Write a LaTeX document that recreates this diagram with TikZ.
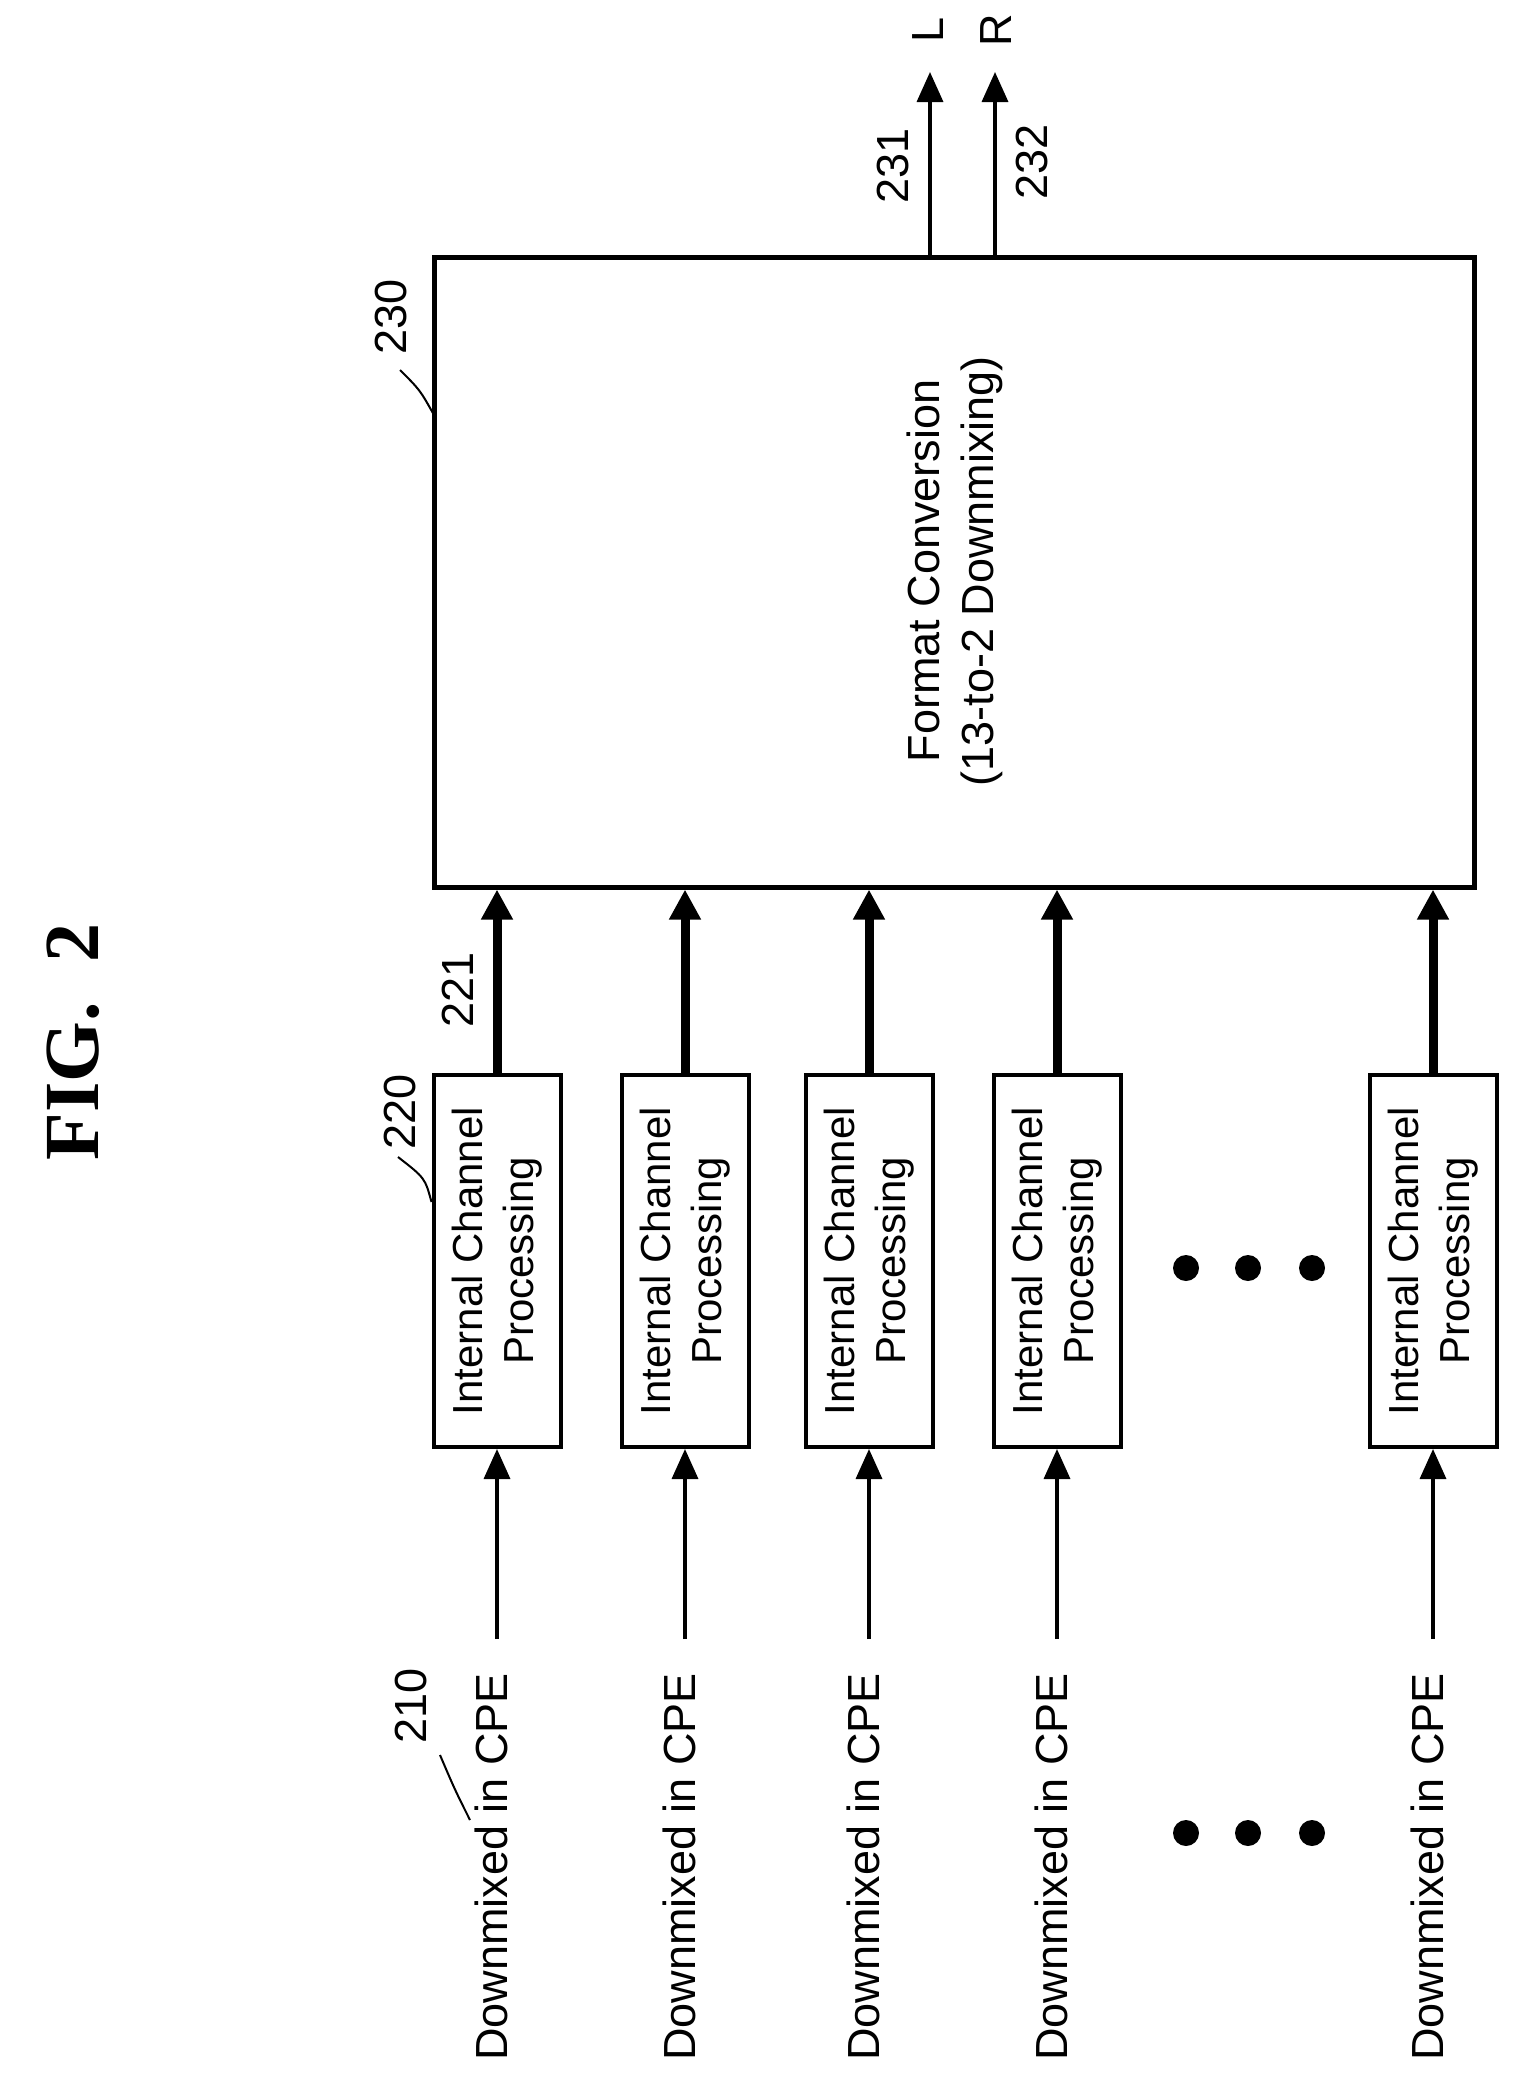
\documentclass[tikz,border=0pt]{standalone}
\usepackage{fontspec}
\setmainfont{Liberation Sans}
\newfontfamily\figfont{Liberation Serif}
\usetikzlibrary{arrows.meta}
\begin{document}
\begin{tikzpicture}[x=1pt,y=-1pt,
  lab/.style={font=\fontsize{45}{54}\selectfont, rotate=90, inner sep=0pt},
  icp/.style={draw, line width=4pt, minimum width=127pt, minimum height=372pt, inner sep=0pt},
  icptxt/.style={font=\fontsize{42}{51}\selectfont, rotate=90, align=center},
  thin/.style={line width=3.5pt, -{Triangle[length=30pt,width=26pt]}},
  thick/.style={line width=9pt, -{Triangle[length=30pt,width=30pt]}},
  lead/.style={line width=2pt},
  dot/.style={circle, fill=black, minimum size=26pt, inner sep=0pt}]
\useasboundingbox (0,0) rectangle (1514,2073);
\node[rotate=90, font=\figfont\bfseries\fontsize{78}{90}\selectfont] (fig) at (73,1042) {FIG.~~2};
% big box
\node[draw, line width=5pt, minimum width=1040pt, minimum height=630pt, inner sep=0pt] (fc) at (954,572) {};
\node[lab, align=center] (fctxt) at (955,571) {Format Conversion\\(13-to-2 Downmixing)};
% outputs
\coordinate (oL) at (930,72);
\coordinate (oR) at (995,72);
\draw[thin] (fc.north -| oL) -- (oL);
\draw[thin] (fc.north -| oR) -- (oR);
\node[lab] (L) at (928,30) {L};
\node[lab] (R) at (996,30) {R};
\node[lab] (n231) at (893,166) {231};
\node[lab] (n232) at (1032,162) {232};
\node[lab] (n230) at (391,317) {230};
\coordinate (c230) at (434,415);
\draw[lead] (400,370) .. controls (420,390) .. (c230);
% channels
\foreach \i/\x in {1/497,2/685,3/869,4/1057,5/1433}{
  \node[icp] (b\i) at (\x,1261) {};
  \node[icptxt] (t\i) at (b\i.center) {Internal Channel\\Processing};
  \node[lab] (d\i) at (\x-6,1867) {Downmixed in CPE};
  \coordinate (s\i) at (\x,1639);
  \draw[thin] (s\i) -- (b\i.south);
  \draw[thick] (b\i.north) -- (b\i.north |- fc.south);
}
\node[lab] (n221) at (458,990) {221};
\node[lab] (n220) at (400,1112) {220};
\draw[lead] (398,1157) .. controls (425,1178) .. (b1.north west |- 0,1202);
\node[lab] (n210) at (411,1706) {210};
\draw[lead] (440,1755) .. controls (455,1790) .. (470,1820);
\foreach \j/\x in {1/1186,2/1248,3/1312}{
  \node[dot] (u\j) at (\x,1268) {};
  \node[dot] (v\j) at (\x,1833) {};
}
\end{tikzpicture}
\end{document}
